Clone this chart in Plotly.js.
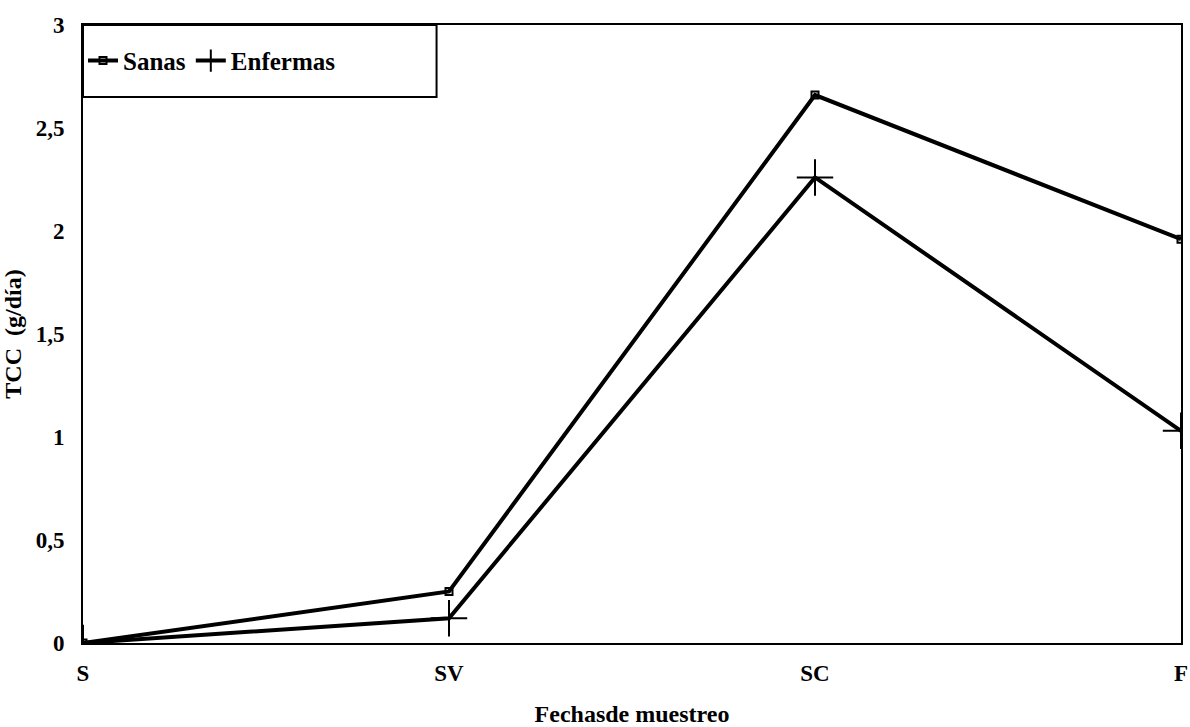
<!DOCTYPE html>
<html>
<head>
<meta charset="utf-8">
<script src="https://cdn.plot.ly/plotly-3.0.1.min.js"></script>
<style>html,body{margin:0;padding:0;background:#fff;}#chart{width:1190px;height:727px;}</style>
</head>
<body>
<div id="chart"></div>
<script>
const categories = ["S", "SV", "SC", "F"];
const sanas = [0, 0.25, 2.66, 1.96];
const enfermas = [0, 0.12, 2.26, 1.03];
const yTickVals = [0, 0.5, 1, 1.5, 2, 2.5, 3];
const yTickText = ["0", "0,5", "1", "1,5", "2", "2,5", "3"];

const fontFam = '"Liberation Serif", "DejaVu Serif", serif';

const traces = [
  {
    x: categories, y: sanas, name: "Sanas", type: "scatter", mode: "lines+markers",
    line: {color: "#000", width: 4},
    marker: {symbol: "square-open", size: 7, color: "#000", line: {width: 2, color: "#000"}}
  },
  {
    x: categories, y: enfermas, name: "Enfermas", type: "scatter", mode: "lines+markers",
    line: {color: "#000", width: 4},
    marker: {symbol: "cross-thin-open", size: 26, color: "#000", line: {width: 2, color: "#000"}}
  }
];

const layout = {
  width: 1190, height: 727,
  margin: {l: 83, r: 9, t: 25, b: 84},
  paper_bgcolor: "#fff", plot_bgcolor: "#fff",
  font: {family: fontFam, size: 23, color: "#000", weight: "bold"},
  showlegend: true,
  legend: {
    x: 0.0, y: 0.942, xanchor: "left", yanchor: "middle", orientation: "h",
    borderwidth: 0, bgcolor: "rgba(0,0,0,0)",
    font: {family: fontFam, size: 25, color: "#000", weight: "bold"},
    tracegroupgap: 0
  },
  shapes: [{
    type: "rect", xref: "paper", yref: "paper",
    x0: 0, x1: 0.322, y0: 0.8835, y1: 1,
    line: {color: "#000", width: 2}, fillcolor: "rgba(0,0,0,0)", layer: "above"
  }],
  xaxis: {
    type: "category", range: [0, 3],
    showline: true, linecolor: "#000", linewidth: 2, mirror: true,
    showgrid: false, zeroline: false, ticks: "", ticklabelstandoff: 8,
    tickfont: {family: fontFam, size: 23, weight: "bold"},
    title: {text: "Fechasde muestreo", font: {family: fontFam, size: 24, weight: "bold"}, standoff: 24}
  },
  yaxis: {
    range: [0, 3], tickvals: yTickVals, ticktext: yTickText,
    showline: true, linecolor: "#000", linewidth: 2, mirror: true,
    showgrid: false, zeroline: false, ticks: "", ticklabelstandoff: 12,
    tickfont: {family: fontFam, size: 23, weight: "bold"},
    title: {text: "TCC  (g/día)", font: {family: fontFam, size: 24, weight: "bold"}, standoff: 8}
  }
};

Plotly.newPlot("chart", traces, layout, {displayModeBar: false, staticPlot: true});
</script>
</body>
</html>
